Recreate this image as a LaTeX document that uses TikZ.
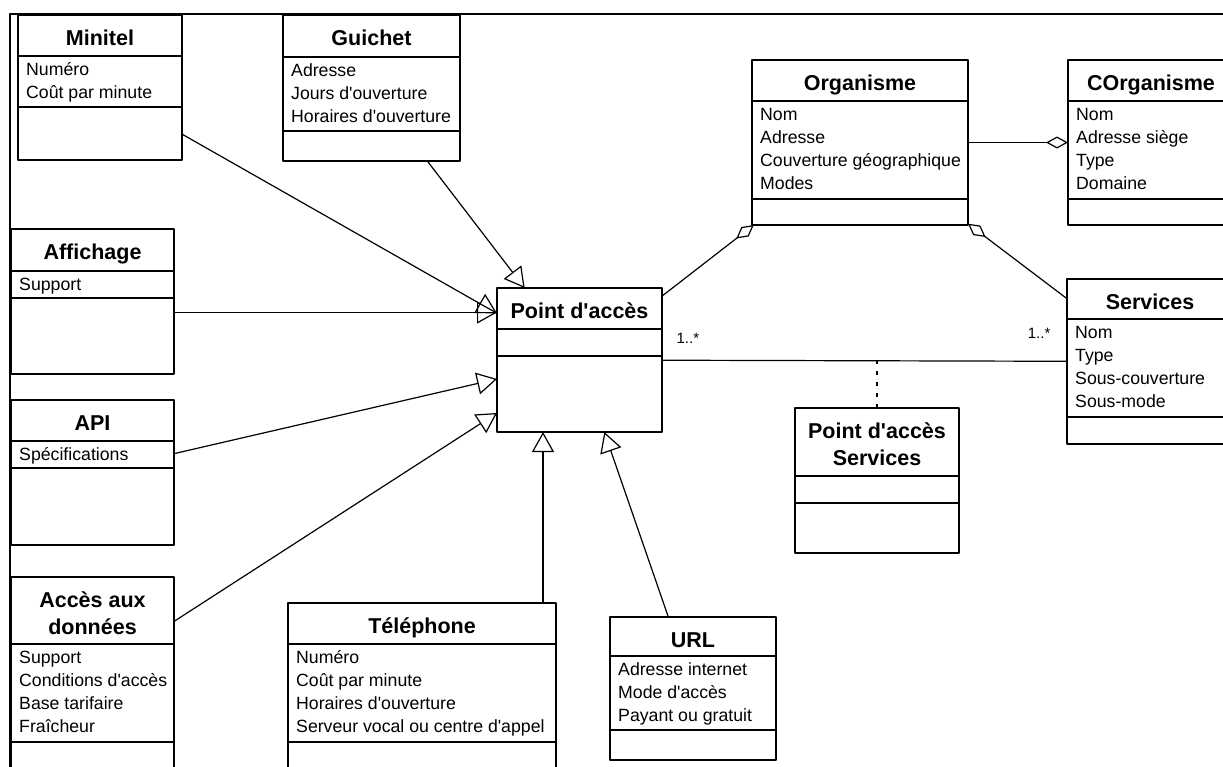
\documentclass[tikz,border=0pt]{standalone}
\usepackage{fontspec}
\setmainfont{Liberation Sans}[Ligatures=TeXOff]
\usetikzlibrary{arrows.meta,calc}
\begin{document}
\begin{tikzpicture}[x=1pt,y=-1pt,line join=round,
	classbox/.style={draw,line width=1.3pt,inner sep=0pt,outer sep=0pt,anchor=north west},
	sepline/.style={line width=1.3pt},
	ctitle/.style={font=\fontsize{21.5}{26}\selectfont\bfseries,anchor=base,inner sep=0pt},
	cattr/.style={font=\fontsize{17.7}{23}\selectfont,anchor=base west,inner sep=0pt},
	mult/.style={font=\fontsize{15}{18}\selectfont,inner sep=0pt},
	inherit/.style={line width=1.2pt,-{Triangle[open,length=20pt,width=22pt,line width=1.2pt]}},
	aggr/.style={line width=1.2pt,-{Diamond[open,length=22pt,width=12pt,line width=1.2pt]}},
	dashlink/.style={line width=1.5pt,dash pattern=on 4pt off 7pt}]
	\def\umlclass#1#2#3#4#5#6#7#8#9{%
		\node[classbox,minimum width=#4pt,minimum height=#5pt] (#1) at (#2,#3) {};
		\draw[sepline] ($(#1.north west)+(0,#6)$) -- ($(#1.north east)+(0,#6)$);
		\draw[sepline] ($(#1.north west)+(0,#8)$) -- ($(#1.north east)+(0,#8)$);
		\foreach \ttl [count=\ti from 0] in {#7}
			\node[ctitle] (#1-t\ti) at ($(#1.north)+(0,30+27*\ti)$) {\ttl};
		\foreach \att [count=\ai from 0] in {#9}
			\node[cattr] (#1-a\ai) at ($(#1.north west)+(8,#6+19.5+23*\ai)$) {\att};
	}
	\useasboundingbox (0,0) rectangle (1223,766);
	\clip (0,0) rectangle (1223,766);
	\draw[line width=1.3pt] (10,790) -- (10,14) -- (1250,14);
	\umlclass{minitel}{18}{15}{164}{145}{41}{Minitel}{92}{Numéro,Coût par minute}
	\umlclass{guichet}{283}{15}{177}{146}{42}{Guichet}{116}{Adresse,Jours d'ouverture,Horaires d'ouverture}
	\umlclass{org}{752}{60}{216}{165}{41}{Organisme}{139}{Nom,Adresse,Couverture géographique,Modes}
	\umlclass{corg}{1068}{60}{166}{165}{41}{COrganisme}{139}{Nom,Adresse siège,Type,Domaine}
	\umlclass{aff}{11}{229}{163}{145}{42}{Affichage}{69}{Support}
	\umlclass{api}{11}{400}{163}{145}{41}{API}{68}{Spécifications}
	\umlclass{acces}{11}{577}{163}{194}{67}{Accès aux,données}{165}{Support,Conditions d'accès,Base tarifaire,Fraîcheur}
	\umlclass{pa}{497}{288}{165}{144}{41}{Point d'accès}{68}{}
	\umlclass{serv}{1067}{279}{166}{165}{40}{Services}{138}{Nom,Type,Sous-couverture,Sous-mode}
	\umlclass{pas}{795}{408}{164}{145}{68}{Point d'accès,Services}{95}{}
	\umlclass{tel}{288}{603}{268}{170}{41}{Téléphone}{139}{Numéro,Coût par minute,Horaires d'ouverture,Serveur vocal ou centre d'appel}
	\umlclass{url}{610}{617}{166}{143}{39}{URL}{113}{Adresse internet,Mode d'accès,Payant ou gratuit}
	\coordinate (affout) at ([yshift=-11pt]aff.east);
	\coordinate (telin) at ([xshift=-13pt]tel.north east);
	\draw[inherit] (minitel) -- (pa);
	\draw[inherit] (guichet) -- (pa);
	\draw[inherit] (affout) -- (affout -| pa.west);
	\draw[inherit] (api) -- (pa);
	\draw[inherit] (acces) -- (pa);
	\draw[inherit] (telin) -- (telin |- pa.south);
	\draw[inherit] (url) -- (pa);
	\draw[aggr] (pa) -- (org);
	\draw[aggr] (serv) -- (org);
	\draw[aggr] (org) -- (corg);
	\draw[line width=1.2pt] (pa) -- node[mult,pos=0,anchor=south west,xshift=14pt,yshift=16pt] (m1) {1..*} node[mult,pos=1,anchor=south east,xshift=-16pt,yshift=22pt] (m2) {1..*} (serv);
	\draw[dashlink] (pas.north) -- (pas.north |- pa.center);
\end{tikzpicture}
\end{document}
